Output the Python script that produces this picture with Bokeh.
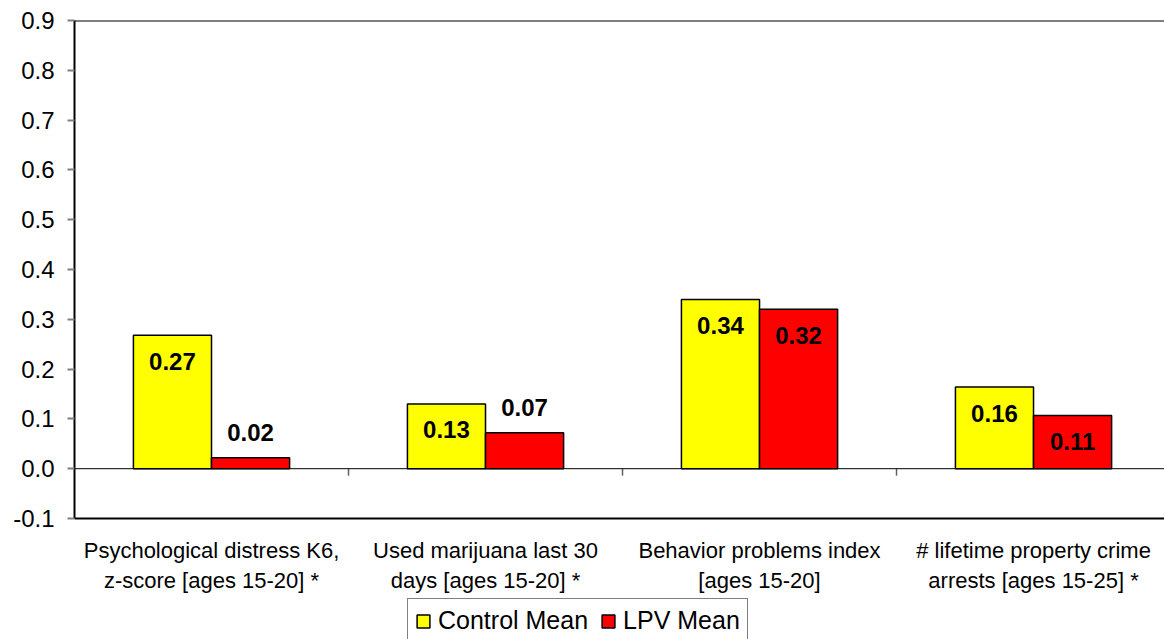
from bokeh.plotting import figure
from bokeh.models import (Range1d, Span, Legend, LegendItem, ColumnDataSource,
                          FixedTicker, PrintfTickFormatter)
from bokeh.core.properties import value
from bokeh.embed import file_html
from bokeh.resources import INLINE

categories = [
    "Psychological distress K6,\nz-score [ages 15-20] *",
    "Used marijuana last 30\ndays [ages 15-20] *",
    "Behavior problems index\n[ages 15-20]",
    "# lifetime property crime\narrests [ages 15-25] *",
]
control_mean = [0.268, 0.130, 0.340, 0.164]
lpv_mean = [0.022, 0.072, 0.320, 0.107]
control_labels = ["0.27", "0.13", "0.34", "0.16"]
lpv_labels = ["0.02", "0.07", "0.32", "0.11"]
y_ticks = [-0.1, 0.0, 0.1, 0.2, 0.3, 0.4, 0.5, 0.6, 0.7, 0.8, 0.9]

FONT = "Liberation Sans"
n = len(categories)
centers = [i + 0.5 for i in range(n)]
bar_w = 0.285

Y_MIN, Y_MAX = y_ticks[0], y_ticks[-1]
PLOT_PX = 498                     # pixels between Y_MIN and Y_MAX
FRAME_H = 619                     # frame extends below the value area for labels/legend
y_start = Y_MAX - (Y_MAX - Y_MIN) * FRAME_H / PLOT_PX

p = figure(frame_width=1090, frame_height=FRAME_H, output_backend="svg",
           toolbar_location=None,
           x_range=Range1d(0, 3.978), y_range=Range1d(y_start, Y_MAX),
           min_border_left=74, min_border_right=0, min_border_top=20,
           min_border_bottom=0)
p.outline_line_color = None
p.xgrid.visible = False
p.ygrid.visible = False
p.xaxis.visible = False
p.background_fill_color = "white"

# y axis
p.yaxis.ticker = FixedTicker(ticks=y_ticks)
p.yaxis.bounds = (Y_MIN, Y_MAX)
p.yaxis.formatter = PrintfTickFormatter(format="%.1f")
p.yaxis.major_label_text_font = FONT
p.yaxis.major_label_text_font_size = "24px"
p.yaxis.major_label_text_color = "black"
p.yaxis.axis_line_color = "black"
p.yaxis.axis_line_width = 2
p.yaxis.major_tick_line_color = "#808080"
p.yaxis.major_tick_line_width = 2
p.yaxis.major_tick_out = 7
p.yaxis.major_tick_in = 0
p.yaxis.minor_tick_line_color = None
p.yaxis.major_label_standoff = 13

# top border, bottom axis line, zero line
p.add_layout(Span(location=Y_MAX, dimension="width", line_color="black", line_width=2))
p.add_layout(Span(location=Y_MIN, dimension="width", line_color="black", line_width=2))
p.add_layout(Span(location=0.0, dimension="width", line_color="black", line_width=1))
# category separator ticks on the zero line
sep = list(range(1, n))
p.segment(x0=sep, y0=[0.0] * len(sep), x1=sep, y1=[-0.014] * len(sep),
          line_color="#606060", line_width=1.5)

# category labels below the value area
p.text(x=centers, y=[Y_MIN] * n, text=categories, y_offset=19,
       text_font=value(FONT), text_font_size="22px", text_color="black",
       text_align="center", text_baseline="top", text_line_height=1.23)

src = ColumnDataSource(dict(
    xc=[c - bar_w / 2 for c in centers],
    xl=[c + bar_w / 2 for c in centers],
    control=control_mean, lpv=lpv_mean,
    cl=control_labels, ll=lpv_labels,
    coff=[26 if v >= 0.1 else -25 for v in control_mean],
    loff=[26 if v >= 0.1 else -25 for v in lpv_mean],
))

r_c = p.vbar(x="xc", top="control", bottom=0, width=bar_w, source=src,
             fill_color="#FFFF00", line_color="black", line_width=1.5)
r_l = p.vbar(x="xl", top="lpv", bottom=0, width=bar_w, source=src,
             fill_color="#FF0000", line_color="black", line_width=1.5)

p.text(x="xc", y="control", text="cl", y_offset="coff", source=src,
       text_font=value(FONT), text_font_size="24px", text_font_style="bold",
       text_align="center", text_baseline="middle", text_color="black")
p.text(x="xl", y="lpv", text="ll", y_offset="loff", source=src,
       text_font=value(FONT), text_font_size="24px", text_font_style="bold",
       text_align="center", text_baseline="middle", text_color="black")

legend = Legend(items=[LegendItem(label="Control Mean", renderers=[r_c]),
                       LegendItem(label="LPV Mean", renderers=[r_l])],
                orientation="horizontal", location=(333, -4),
                label_text_font=FONT, label_text_font_size="25px",
                label_text_color="black", background_fill_color="white",
                border_line_color="black", border_line_width=1.5,
                glyph_width=16, glyph_height=16, label_standoff=7,
                spacing=12, padding=7, margin=0, label_height=24)
p.add_layout(legend)

open("out.html", "w").write(file_html(p, INLINE))
